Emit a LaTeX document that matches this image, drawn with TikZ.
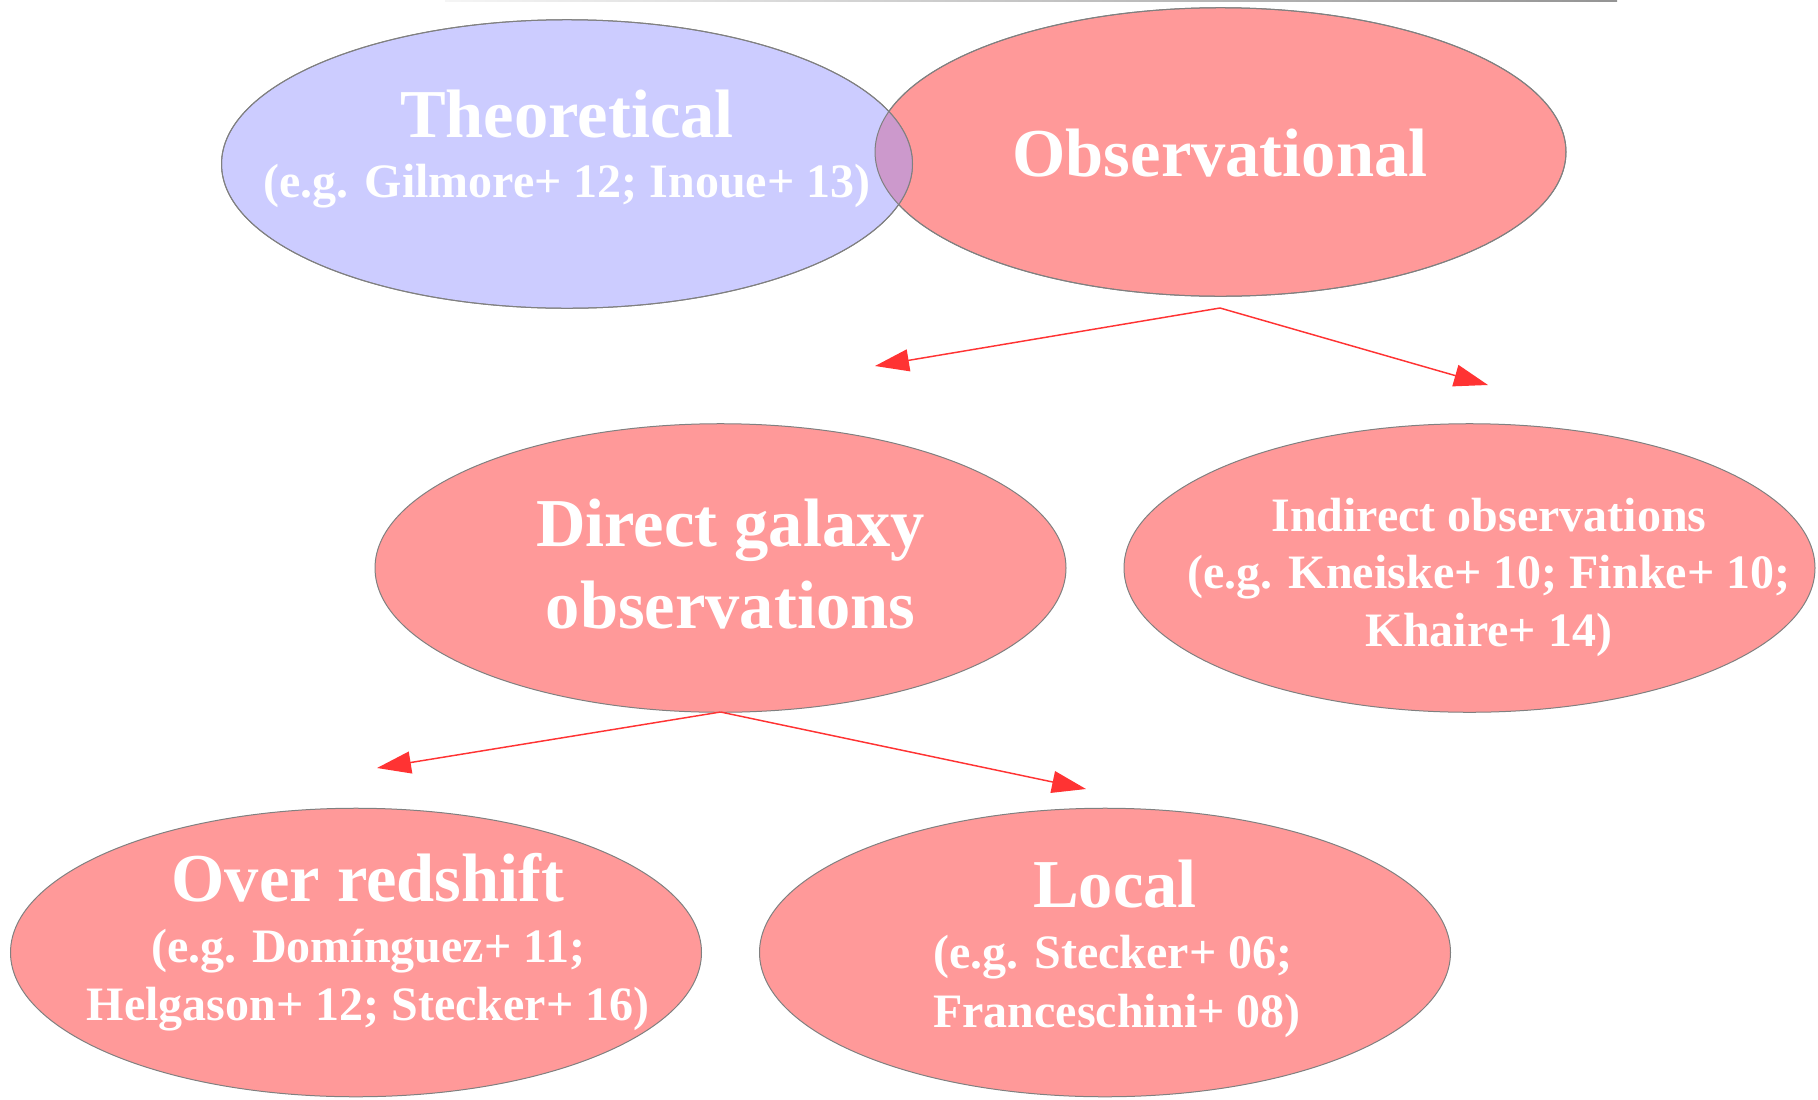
\documentclass[tikz,border=0pt]{standalone}
\usepackage{fontspec}
\setmainfont{Liberation Serif}
\usetikzlibrary{shapes.geometric,arrows.meta}
\definecolor{theofill}{HTML}{CCCCFF}
\definecolor{obsfill}{HTML}{FF9999}
\definecolor{lensfill}{HTML}{CC99CC}
\definecolor{edgegray}{HTML}{808080}
\definecolor{arrowred}{HTML}{FF3333}
\tikzset{
  blob/.style={ellipse, draw=edgegray, line width=0.75pt, minimum width=518.25pt, minimum height=216.4pt, inner sep=0pt},
  bigtext/.style={anchor=base, inner sep=0pt, text=white, font=\bfseries\fontsize{51.4pt}{60pt}\selectfont},
  smalltext/.style={anchor=base, inner sep=0pt, text=white, font=\bfseries\fontsize{36pt}{43pt}\selectfont},
  branch/.style={draw=arrowred, line width=1.1pt, -{Triangle[length=25.5pt,width=16.5pt]}},
  outline/.style={draw=edgegray, line width=0.75pt},
  blobpath/.style={x radius=259.1pt, y radius=108.2pt}
}
\begin{document}
\begin{tikzpicture}[x=0.75pt,y=-0.75pt]
\useasboundingbox (0,0) rectangle (1818,1100);
\shade[left color=black!4, right color=black!42] (445,0) rectangle (1617,1.4);

% top pair
\node[blob, fill=obsfill] (obs) at (1220.5,152) {};
\node[blob, fill=theofill] (theo) at (567,164) {};
\begin{scope}
  \clip (theo.center) ellipse [blobpath];
  \fill[lensfill] (obs.center) ellipse [blobpath];
\end{scope}
\draw[outline] (theo.center) ellipse [blobpath];
\draw[outline] (obs.center) ellipse [blobpath];

\node[bigtext] (theoT) at (567,137) {Theoretical};
\node[smalltext] (theoS) at (567,197) {(e.g. Gilmore+ 12; Inoue+ 13)};
\node[bigtext] (obsT) at (1220,176) {Observational};

% middle
\node[blob, fill=obsfill] (dir) at (720.5,568) {};
\node[blob, fill=obsfill] (ind) at (1469.5,568) {};
\node[bigtext] (dirA) at (730.5,546) {Direct galaxy};
\node[bigtext] (dirB) at (730.5,628) {observations};
\node[smalltext] (indA) at (1489,531) {Indirect observations};
\node[smalltext] (indB) at (1489,588) {(e.g. Kneiske+ 10; Finke+ 10;};
\node[smalltext] (indC) at (1489,646) {Khaire+ 14)};

% bottom
\node[blob, fill=obsfill] (over) at (356,952.5) {};
\node[blob, fill=obsfill] (local) at (1105,952.5) {};
\node[bigtext] (overA) at (368,901) {Over redshift};
\node[smalltext] (overB) at (368,962) {(e.g. Domínguez+ 11;};
\node[smalltext] (overC) at (368,1020) {Helgason+ 12; Stecker+ 16)};
\node[bigtext] (locA) at (1115,907) {Local};
\node[smalltext] (locB) at (1113,968) {(e.g. Stecker+ 06;};
\node[smalltext] (locC) at (1117,1027) {Franceschini+ 08)};

% connectors
\coordinate (fork1) at (1220,308);
\coordinate (tip1L) at (875,366);
\coordinate (tip1R) at (1488,385);
\coordinate (fork2) at (720.5,712);
\coordinate (tip2L) at (377,768);
\coordinate (tip2R) at (1086,789);
\draw[branch] (fork1) -- (tip1L);
\draw[branch] (fork1) -- (tip1R);
\draw[branch] (fork2) -- (tip2L);
\draw[branch] (fork2) -- (tip2R);
\end{tikzpicture}
\end{document}
